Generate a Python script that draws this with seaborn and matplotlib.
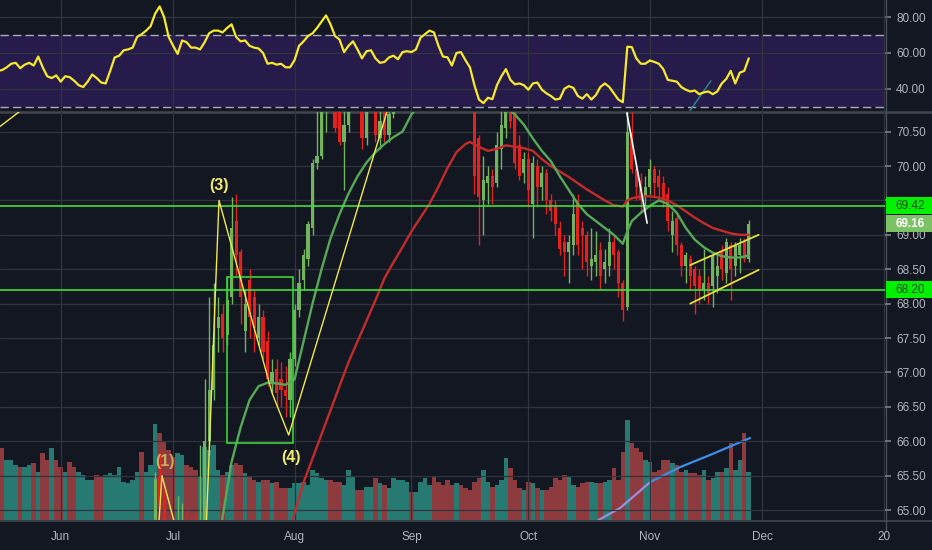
import matplotlib
matplotlib.use("Agg")
import matplotlib.pyplot as plt
import matplotlib.transforms as mtransforms
from matplotlib.lines import Line2D
from matplotlib.patches import Rectangle
from matplotlib.ticker import StrMethodFormatter, FuncFormatter
import numpy as np
import pandas as pd
import seaborn as sns

# ---- data ----
# one bar per session, Sunday..Friday
dates = pd.bdate_range("2019-05-16", "2019-11-27", freq="C",
                       weekmask="Sun Mon Tue Wed Thu Fri")

opens = [63.10, 62.95, 62.70, 62.90, 63.05, 63.20, 62.90, 63.10, 63.20, 63.05,
         63.35, 63.00, 62.70, 62.80, 62.60, 62.40, 62.55, 62.40, 62.20, 62.30,
         62.40, 62.55, 62.80, 62.60, 62.45, 62.50, 62.90, 63.30, 63.40, 63.60,
         63.70, 63.80, 64.20, 64.10, 64.40, 64.70, 65.50, 65.15, 64.70, 64.30,
         64.00, 64.60, 64.80, 64.50, 64.40, 64.30, 64.80, 66.00, 66.75, 67.65,
         67.85, 67.55, 68.10, 69.20, 68.75, 67.60, 68.35, 68.10, 67.50, 67.80,
         67.45, 66.85, 67.05, 66.90, 66.75, 66.60, 67.20, 67.90, 68.35, 68.65,
         69.10, 70.05, 70.15, 71.00, 71.40, 71.20, 71.00, 70.35, 70.60, 70.90,
         71.20, 71.10, 70.40, 71.00, 71.00, 70.40, 71.00, 70.45, 70.75, 71.10,
         71.30, 71.50, 71.60, 71.40, 71.60, 72.00, 72.20, 72.40, 72.30, 71.90,
         71.60, 71.60, 71.30, 71.80, 71.70, 71.50, 71.60, 70.40, 69.50, 69.75,
         69.85, 69.75, 70.25, 70.55, 71.20, 70.80, 70.30, 69.90, 70.10, 69.45,
         70.00, 69.70, 69.90, 69.50, 69.40, 69.10, 68.90, 68.75, 68.85, 69.50,
         69.10, 69.00, 68.55, 68.60, 68.78, 68.50, 68.55, 68.90, 68.75, 68.30,
         67.95, 70.50, 69.95, 69.80, 69.55, 69.70, 69.95, 69.85, 69.75, 69.60,
         69.00, 69.25, 68.85, 68.55, 68.65, 68.50, 68.40, 68.20, 68.30, 68.25,
         68.40, 68.75, 68.45, 68.85, 68.55, 68.70, 68.90, 68.65]
highs = [63.25, 63.05, 63.00, 63.20, 63.35, 63.30, 63.20, 63.30, 63.30, 63.45,
         63.40, 63.10, 62.95, 62.90, 62.70, 62.65, 62.60, 62.50, 62.45, 62.50,
         62.65, 62.90, 62.85, 62.70, 62.60, 63.00, 63.40, 63.50, 63.70, 63.80,
         63.90, 64.30, 64.30, 64.50, 64.80, 65.55, 65.85, 65.30, 64.80, 64.40,
         65.20, 65.10, 65.00, 64.90, 64.95, 65.95, 66.90, 68.10, 68.30, 68.10,
         68.00, 68.40, 69.55, 69.60, 68.80, 68.20, 68.50, 68.20, 68.00, 67.90,
         67.60, 67.20, 67.20, 67.15, 67.10, 67.30, 68.00, 68.50, 68.80, 69.20,
         70.10, 70.80, 71.30, 71.50, 71.60, 71.50, 71.20, 70.85, 71.20, 71.40,
         71.40, 71.30, 71.30, 71.40, 71.20, 70.90, 71.20, 71.00, 71.30, 71.50,
         71.70, 71.80, 71.70, 71.80, 72.10, 72.40, 72.60, 72.50, 72.40, 72.00,
         71.80, 71.70, 71.90, 71.90, 71.80, 71.60, 71.80, 70.45, 70.15, 70.00,
         69.95, 70.50, 70.80, 71.30, 71.30, 70.90, 70.45, 70.20, 70.20, 70.15,
         70.10, 70.00, 69.95, 69.60, 69.50, 69.20, 69.00, 69.00, 69.60, 69.60,
         69.20, 69.05, 69.10, 69.05, 68.90, 68.80, 69.10, 69.00, 68.80, 68.35,
         70.80, 70.80, 70.05, 69.90, 69.85, 70.10, 70.00, 69.95, 69.85, 69.70,
         69.35, 69.30, 68.90, 68.75, 68.70, 68.55, 68.50, 68.80, 68.40, 68.75,
         68.75, 68.85, 68.95, 68.90, 68.90, 68.95, 68.95, 69.22]
lows = [62.80, 62.55, 62.60, 62.80, 62.95, 62.80, 62.80, 63.00, 62.95, 62.95,
        62.90, 62.65, 62.60, 62.50, 62.30, 62.30, 62.30, 62.10, 62.10, 62.20,
        62.30, 62.50, 62.50, 62.35, 62.35, 62.45, 62.85, 63.20, 63.30, 63.50,
        63.60, 63.75, 64.00, 64.05, 64.30, 64.60, 65.00, 64.60, 64.20, 63.90,
        63.95, 64.50, 64.40, 64.30, 64.20, 64.20, 64.70, 65.80, 66.60, 67.30,
        67.30, 67.40, 68.00, 68.40, 67.70, 67.30, 67.50, 67.30, 67.40, 67.20,
        66.80, 66.70, 66.50, 66.50, 66.35, 66.35, 67.10, 67.80, 68.20, 68.55,
        69.00, 69.95, 70.10, 70.50, 70.80, 70.50, 70.30, 69.65, 70.50, 70.80,
        70.80, 70.25, 70.30, 70.90, 70.35, 70.25, 70.35, 70.35, 70.70, 71.00,
        71.20, 71.40, 71.20, 71.30, 71.50, 71.90, 72.10, 72.00, 71.80, 71.40,
        71.30, 71.20, 71.20, 71.50, 71.30, 71.00, 69.60, 68.85, 69.00, 69.45,
        69.45, 69.70, 69.95, 70.40, 70.55, 69.95, 69.80, 69.75, 69.40, 68.95,
        69.40, 69.50, 69.30, 69.20, 69.00, 68.70, 68.40, 68.30, 68.70, 68.70,
        68.50, 68.40, 68.35, 68.40, 68.20, 68.30, 68.40, 68.50, 68.10, 67.75,
        67.90, 69.90, 69.50, 69.35, 69.40, 69.60, 69.55, 69.50, 69.40, 69.05,
        68.75, 68.70, 68.40, 68.30, 68.20, 67.85, 68.00, 68.05, 68.00, 67.95,
        68.15, 68.35, 68.30, 68.05, 68.40, 68.45, 68.60, 68.60]
closes = [62.90, 62.70, 62.90, 63.10, 63.20, 62.90, 63.10, 63.20, 63.05, 63.35,
          63.00, 62.75, 62.80, 62.60, 62.40, 62.55, 62.40, 62.20, 62.35, 62.40,
          62.55, 62.80, 62.60, 62.45, 62.50, 62.90, 63.30, 63.40, 63.60, 63.70,
          63.80, 64.20, 64.10, 64.40, 64.70, 65.45, 65.10, 64.70, 64.30, 64.00,
          64.60, 64.80, 64.50, 64.40, 64.30, 64.80, 66.00, 66.75, 67.40, 67.80,
          67.50, 68.05, 69.10, 68.70, 68.10, 68.00, 67.80, 67.65, 67.80, 67.30,
          66.90, 67.00, 66.70, 66.75, 66.65, 67.20, 67.90, 68.30, 68.70, 69.15,
          70.05, 70.15, 71.00, 71.30, 71.00, 70.55, 70.35, 70.60, 70.90, 71.20,
          71.00, 70.40, 71.00, 71.20, 70.45, 70.65, 70.45, 70.75, 71.10, 71.30,
          71.50, 71.60, 71.40, 71.60, 72.00, 72.20, 72.40, 72.30, 71.90, 71.60,
          71.55, 71.30, 71.80, 71.70, 71.50, 71.30, 69.85, 69.55, 69.80, 69.85,
          69.70, 70.30, 70.60, 71.00, 70.65, 70.05, 69.85, 70.10, 69.65, 70.05,
          69.70, 69.90, 69.50, 69.35, 69.15, 68.80, 68.75, 68.90, 69.30, 68.85,
          69.00, 68.60, 68.65, 68.70, 68.40, 68.60, 68.90, 68.70, 68.30, 67.90,
          70.50, 69.95, 69.70, 69.50, 69.70, 69.95, 69.75, 69.70, 69.50, 69.20,
          69.20, 68.85, 68.55, 68.70, 68.40, 68.25, 68.20, 68.30, 68.15, 68.70,
          68.55, 68.50, 68.90, 68.50, 68.85, 68.85, 68.65, 69.16]

volume = [80, 72, 60, 60, 55, 53, 53, 55, 57, 48,
          67, 60, 72, 60, 53, 48, 58, 53, 48, 45,
          40, 40, 45, 43, 45, 47, 45, 53, 38, 37,
          40, 48, 68, 48, 55, 96, 87, 78, 70, 63,
          67, 65, 55, 53, 50, 43, 73, 70, 75, 50,
          45, 48, 55, 57, 55, 47, 43, 40, 38, 40,
          40, 37, 38, 32, 32, 32, 37, 37, 38, 35,
          50, 47, 42, 40, 40, 38, 38, 35, 50, 43,
          30, 30, 33, 33, 42, 37, 35, 32, 42, 40,
          40, 38, 28, 28, 38, 42, 35, 43, 38, 35,
          40, 35, 37, 35, 32, 30, 38, 42, 50, 38,
          33, 35, 40, 62, 52, 40, 32, 30, 38, 37,
          32, 30, 30, 33, 42, 40, 45, 43, 35, 33,
          37, 38, 38, 37, 37, 38, 40, 52, 40, 68,
          100, 77, 72, 68, 60, 58, 48, 50, 60, 60,
          57, 55, 48, 50, 47, 47, 45, 50, 40, 42,
          48, 48, 52, 77, 50, 60, 87, 48]

rsi = [50, 50.5, 52, 54, 54.5, 51.5, 53.5, 54.5, 53, 58,
       52, 47, 46, 47.5, 44, 47, 46.5, 44.5, 42, 41,
       44, 48, 46, 43.5, 43, 50, 57.5, 58.5, 61.5, 62,
       63, 69, 70.5, 72.5, 75, 82, 86, 80, 69, 64,
       59.5, 67, 66, 63, 63, 62, 66, 71, 72.5, 72.5,
       71.5, 74, 76, 69, 66.5, 67, 64, 63, 62.5, 60,
       54, 54.5, 53.5, 54, 52, 52, 56, 64, 66.5, 69.5,
       71, 74, 77.5, 81, 76, 69.5, 67.5, 60.5, 64, 66.5,
       62, 57, 61, 61.5, 57, 54.5, 55, 57.5, 58.5, 56.5,
       60.5, 61, 60.5, 62, 68.5, 70.5, 72.5, 71.5, 64, 58,
       57.6, 53, 60, 60.5, 56, 52, 42, 34, 32, 35,
       34.2, 42, 47, 51, 45, 42.5, 43, 42, 39.5, 43,
       43.5, 39.5, 37.5, 36, 34, 34.5, 40, 41.5, 40.5, 36,
       34.5, 37, 34, 36.5, 41, 43, 41, 37.5, 34, 32.5,
       63.5, 63.3, 57, 54, 54, 55.8, 55, 54, 51, 45,
       44.5, 44, 41, 39.5, 38.5, 39, 37, 38, 38.5, 37,
       38.5, 43, 45.5, 50, 43, 49, 50, 57]

# moving averages, sampled at some bars
ma_fast_bar = [48, 50, 52, 54, 56, 58, 60, 62, 64, 66, 68, 70, 72, 74, 76, 78,
               80, 82, 84, 86, 88, 90, 92, 95, 100, 105, 110, 113, 115, 117,
               119, 121, 123, 125, 127, 129, 131, 133, 135, 137, 139, 140, 141,
               143, 145, 147, 149, 151, 153, 155, 157, 159, 161, 163, 165, 167]
ma_fast = [63.9, 64.9, 65.7, 66.2, 66.6, 66.8, 66.85, 66.84, 66.82, 66.9, 67.45,
           68.0, 68.5, 68.95, 69.3, 69.6, 69.85, 70.05, 70.2, 70.32, 70.42,
           70.5, 70.75, 71.0, 71.2, 71.2, 71.0, 70.85, 70.75, 70.6, 70.4, 70.22,
           70.07, 69.85, 69.65, 69.45, 69.3, 69.2, 69.1, 69.0, 68.87, 69.05,
           69.2, 69.32, 69.42, 69.5, 69.45, 69.32, 69.1, 68.93, 68.82, 68.74,
           68.69, 68.67, 68.67, 68.7]
ma_slow_bar = [62, 64, 66, 68, 70, 72, 74, 76, 78, 80, 82, 84, 86, 88, 90, 92,
               94, 96, 98, 100, 102, 104, 105, 107, 109, 111, 113, 115, 117,
               119, 121, 123, 125, 127, 129, 131, 133, 135, 137, 139, 140, 141,
               143, 145, 147, 149, 151, 153, 155, 157, 159, 161, 163, 165, 167]
ma_slow = [64.1, 64.5, 64.95, 65.4, 65.75, 66.1, 66.45, 66.8, 67.15, 67.45,
           67.75, 68.05, 68.37, 68.6, 68.82, 69.05, 69.25, 69.45, 69.7, 69.97,
           70.2, 70.32, 70.35, 70.28, 70.22, 70.25, 70.3, 70.28, 70.26, 70.22,
           70.1, 70.0, 69.92, 69.84, 69.75, 69.66, 69.58, 69.5, 69.43, 69.41,
           69.5, 69.53, 69.56, 69.56, 69.54, 69.5, 69.43, 69.34, 69.25, 69.17,
           69.1, 69.06, 69.02, 69.0, 69.0]

levels = [69.42, 68.20]
last_price = 69.16

# hand-drawn objects (bar, price)
wave_bar = [34, 36.5, 45.5, 49.2, 61, 64.7, 88]
wave_px = [62.9, 65.5, 63.3, 69.5, 66.7, 66.09, 71.1]
wave_labels = [("(1)", 37.3, 65.70), ("(3)", 49.1, 69.72), ("(4)", 65.1, 65.77)]
old_wave_bar = [-1, 8]
old_wave_px = [70.5, 70.95]
box_bars = [51.0, 65.7]
box_px = [65.97, 68.39]
chan_bar = [154, 169.2]
chan_up = [68.56, 69.0]
chan_lo = [68.0, 68.49]
white_bar = [139.9, 144.4]
white_px = [70.77, 69.17]
vol_line_bar = [133.6, 138.4, 145.1, 151.8, 158.4, 167.3]
vol_line = [0, 12, 38, 53, 65, 82]
rsi_line_bar = [153.6, 158.6]
rsi_line = [26.6, 44.5]

# ---- style ----
BG = "#131722"
GRID = "#30343f"
TXT = "#b2b5be"
UP = "#72b45e"
DOWN = "#e3211f"

sns.set_theme(style="dark", rc={"axes.facecolor": BG, "figure.facecolor": BG})
plt.rcParams["font.family"] = ["Liberation Sans", "DejaVu Sans"]

W, H = 932, 550


def box(x0, y0, x1, y1):
    return [x0 / W, 1 - y1 / H, (x1 - x0) / W, (y1 - y0) / H]


fig = plt.figure(figsize=(9.32, 5.5), dpi=100, facecolor=BG)
ax_rsi = fig.add_axes(box(0, 0, 885, 111))
ax_vol = fig.add_axes(box(0, 112, 885, 520))
ax = fig.add_axes(box(0, 112, 885, 520))
ax_vol.set_zorder(1)
ax.set_zorder(2)
ax.patch.set_visible(False)

bars = np.arange(len(dates))
o = np.array(opens); h = np.array(highs); l = np.array(lows); c = np.array(closes)
rising = c >= o
col = np.where(rising, UP, DOWN)
vcol = np.where(rising, "#267a72", "#8e3b3f")

# month ticks
cal = pd.bdate_range("2019-05-16", "2020-01-10", freq="C",
                     weekmask="Sun Mon Tue Wed Thu Fri")
month_pos, month_lab = [], []
for k in range(1, len(cal)):
    if cal[k].month != cal[k - 1].month:
        month_pos.append(k)
        month_lab.append("20" if cal[k].month == 1 else cal[k].strftime("%b"))

XL = (0.5, 197.3)

# volume (behind)
ax_vol.set_facecolor(BG)
ax_vol.bar(bars, volume, width=1.0, color=vcol, linewidth=0)
sns.lineplot(x=vol_line_bar[:3], y=vol_line[:3], ax=ax_vol, color="#9a8fe0", linewidth=1.6)
sns.lineplot(x=vol_line_bar[2:], y=vol_line[2:], ax=ax_vol, color="#3b8eea", linewidth=1.6)
ax_vol.set_xlim(*XL)
ax_vol.set_ylim(0, 408)
ax_vol.set_xticks([]); ax_vol.set_yticks([])
ax_vol.set_xlabel(""); ax_vol.set_ylabel("")
for s in ax_vol.spines.values():
    s.set_visible(False)

# price pane
ax.set_axisbelow(True)
ax.grid(True, color=GRID, linewidth=0.9)
ax.vlines(bars, l, h, colors=col, linewidth=1, zorder=3)
ax.bar(bars, np.maximum(np.abs(c - o), 0.015), bottom=np.minimum(o, c),
       width=0.7, color=col, linewidth=0, zorder=3)
sns.lineplot(x=ma_slow_bar, y=ma_slow, ax=ax, color="#c42b2b", linewidth=1.7, zorder=4)
sns.lineplot(x=ma_fast_bar, y=ma_fast, ax=ax, color="#55a957", linewidth=1.7, zorder=4)

for lv in levels:
    ax.axhline(lv, color="#3ae03a", linewidth=1.2, zorder=5)
ax.add_patch(Rectangle((box_bars[0], box_px[0]), box_bars[1] - box_bars[0],
                       box_px[1] - box_px[0], fill=False, ec="#38d438", lw=1.2, zorder=5))
ax.plot(wave_bar, wave_px, color="#f2ea4b", linewidth=1.0, zorder=5)
ax.plot(old_wave_bar, old_wave_px, color="#f2ea4b", linewidth=1.0, zorder=5)
ax.plot(chan_bar, chan_up, color="#e6df3a", linewidth=1.3, zorder=5)
ax.plot(chan_bar, chan_lo, color="#e6df3a", linewidth=1.3, zorder=5)
ax.plot(white_bar, white_px, color="white", linewidth=1.2, zorder=5)
for txt, bx, py in wave_labels:
    ax.text(bx, py, txt, color="#f3eb6e", fontsize=11.5, fontweight="bold",
            ha="center", va="center", zorder=6, alpha=0.65 if txt == "(1)" else 1)

ax.set_xlim(*XL)
ax.set_ylim(64.855, 70.785)
ax.set_xticks(month_pos)
ax.set_xticklabels(month_lab)
ax.set_yticks(np.arange(65.0, 70.51, 0.5))
# the 69.50 label sits under the 69.42 marker on the scale
ax.yaxis.set_major_formatter(FuncFormatter(lambda v, p: "" if abs(v - 69.5) < 1e-6 else f"{v:.2f}"))
ax.yaxis.tick_right()
ax.tick_params(axis="y", colors="#787b86", labelcolor=TXT, length=4, labelsize=8.5, pad=4)
ax.tick_params(axis="x", colors="#787b86", labelcolor=TXT, length=3, labelsize=8.5, pad=5)
ax.set_xlabel(""); ax.set_ylabel("")
for s in ax.spines.values():
    s.set_visible(False)

# price labels on the right scale
tr = mtransforms.blended_transform_factory(ax.transAxes, ax.transData)
half = 8.5 / 68.8
for lv in levels:
    ax.add_patch(Rectangle((1.001, lv - half), 0.053, 2 * half, transform=tr,
                           fc="#00f000", ec="none", clip_on=False, zorder=10))
    ax.text(1.012, lv, f"{lv:.2f}", transform=tr, ha="left", va="center",
            fontsize=8.5, color="#1c461c", clip_on=False, zorder=11)
ax.add_patch(Rectangle((1.001, last_price - half), 0.053, 2 * half, transform=tr,
                       fc="#7cc266", ec="none", clip_on=False, zorder=10))
ax.text(1.012, last_price, f"{last_price:.2f}", transform=tr, ha="left", va="center",
        fontsize=8.5, color="white", fontweight="bold", clip_on=False, zorder=11)

# RSI pane
ax_rsi.set_facecolor(BG)
ax_rsi.axhspan(30, 70, color="#261b4a", zorder=0, linewidth=0)
ax_rsi.set_axisbelow(True)
ax_rsi.grid(True, color=GRID, linewidth=0.9)
for lv in (70, 30):
    ax_rsi.axhline(lv, color="#a8abb8", linewidth=1.0, linestyle=(0, (6, 3)), zorder=2)
sns.lineplot(x=bars, y=rsi, ax=ax_rsi, color="#f7ea2c", linewidth=1.6, zorder=4)
ax_rsi.plot(rsi_line_bar, rsi_line, color="#2b8c96", linewidth=1.0, zorder=3)
ax_rsi.set_xlim(*XL)
ax_rsi.set_ylim(27.6, 89.6)
ax_rsi.set_xticks(month_pos)
ax_rsi.tick_params(axis="x", length=0, labelbottom=False)
ax_rsi.set_yticks([40, 60, 80])
ax_rsi.yaxis.set_major_formatter(StrMethodFormatter("{x:.2f}"))
ax_rsi.yaxis.tick_right()
ax_rsi.tick_params(axis="y", colors="#787b86", labelcolor=TXT, length=4, labelsize=8.5, pad=4)
ax_rsi.set_xlabel(""); ax_rsi.set_ylabel("")
for s in ax_rsi.spines.values():
    s.set_visible(False)

# pane separators and scale border
fig.add_artist(Line2D([0, 1], [1 - 111.5 / H] * 2, color="#434651", linewidth=1.8))
fig.add_artist(Line2D([0, 1], [1 - 520.5 / H] * 2, color="#434651", linewidth=1.2))
fig.add_artist(Line2D([885.5 / W] * 2, [1 - 530 / H, 1], color="#4a4e59", linewidth=1.0))

fig.savefig("out.png", dpi=100, facecolor=BG)
